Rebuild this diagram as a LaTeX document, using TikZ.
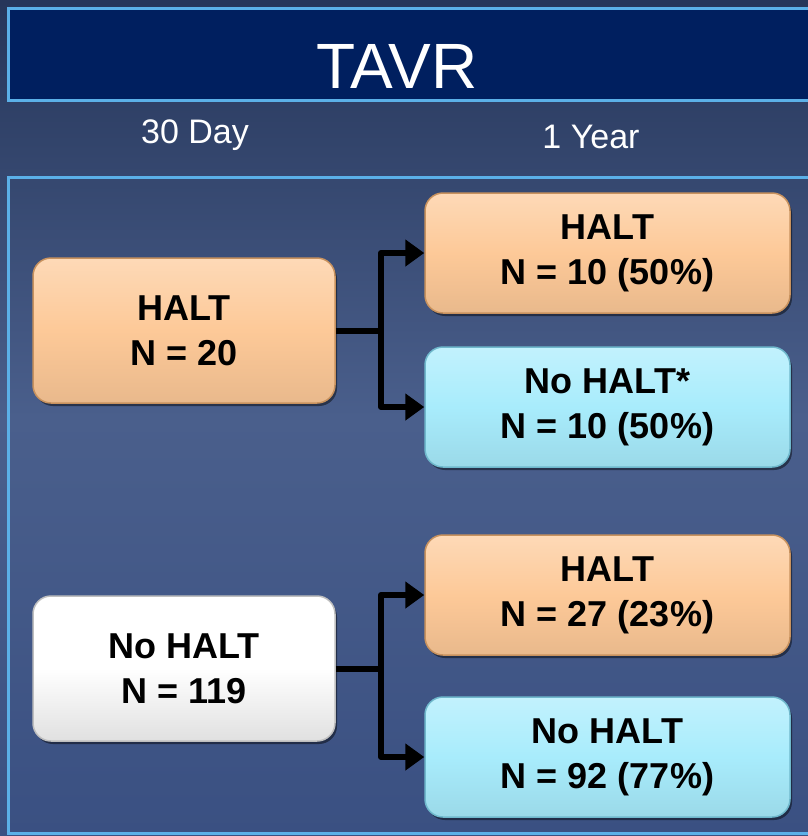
\documentclass[tikz,border=0pt]{standalone}
\usepackage{fontspec}
\setmainfont{Liberation Sans}
\usetikzlibrary{arrows.meta,shadows}
\definecolor{bgtop}{HTML}{26365A}
\definecolor{bgmid}{HTML}{4A5F8C}
\definecolor{bgbot}{HTML}{3A5082}
\definecolor{navy}{HTML}{001F5F}
\definecolor{frameblue}{HTML}{5BB0E8}
\definecolor{orangefill}{HTML}{FDC998}
\definecolor{orangeedge}{HTML}{C8925E}
\definecolor{bluefill}{HTML}{A8ECFC}
\definecolor{blueedge}{HTML}{6FB8CC}
\definecolor{whiteedge}{HTML}{BFBFBF}
\tikzset{
  boxbase/.style={rounded corners=18pt, minimum width=302pt, minimum height=145pt,
    align=center, text=black, line width=1.5pt,
    font=\fontsize{36}{45}\selectfont\bfseries,
    drop shadow={shadow xshift=2pt, shadow yshift=-3pt, opacity=0.45, fill=black}},
  orangebox/.style={boxbase, draw=orangeedge, top color=orangefill!70!white, bottom color=orangefill!92!black, middle color=orangefill},
  bluebox/.style={boxbase, draw=blueedge, top color=bluefill!70!white, bottom color=bluefill!92!black, middle color=bluefill},
  whitebox/.style={boxbase, draw=whiteedge, top color=white, bottom color=white!88!black, middle color=white},
  rightbox/.style={minimum width=365pt, minimum height=120pt},
  conn/.style={line width=6pt, draw=black},
  arr/.style={conn, -{Triangle[length=19pt,width=26pt]}},
  headtext/.style={text=white, font=\fontsize{64}{70}\selectfont},
  coltext/.style={text=white, font=\fontsize{34}{40}\selectfont},
}
\begin{document}
\begin{tikzpicture}[x=1pt,y=-1pt]
\useasboundingbox (0,0) rectangle (808,836);
\begin{scope}
\clip (0,0) rectangle (808,836);
\shade[top color=bgtop, bottom color=bgbot, middle color=bgmid] (0,0) rectangle (808,836);
\draw[frameblue, line width=3pt, fill=navy] (8,8) rectangle (830,100);
\draw[frameblue, line width=3pt] (8,177) rectangle (830,833);
\end{scope}
\node[headtext] (title) at (397,66) {TAVR};
\node[coltext] (c30) at (195,135) {30 Day};
\node[coltext] (c1y) at (591,137) {1 Year};

\node[orangebox] (h20) at (184,330.5) {HALT\\N = 20};
\node[orangebox, rightbox] (h10) at (607.5,253) {HALT\\N = 10 (50\%)};
\node[bluebox, rightbox] (nh10) at (607.5,407) {No HALT*\\N = 10 (50\%)};
\node[whitebox] (nh119) at (184,668.5) {No HALT\\N = 119};
\node[orangebox, rightbox] (h27) at (607.5,595) {HALT\\N = 27 (23\%)};
\node[bluebox, rightbox] (nh92) at (607.5,757) {No HALT\\N = 92 (77\%)};

\coordinate (j1) at (381,330.5);
\coordinate (j2) at (381,668.5);
\draw[conn] (h20.east) -- (j1);
\draw[arr, line join=round] (j1) |- (h10.west);
\draw[arr, line join=round] (j1) |- (nh10.west);
\draw[conn] (nh119.east) -- (j2);
\draw[arr, line join=round] (j2) |- (h27.west);
\draw[arr, line join=round] (j2) |- (nh92.west);
\end{tikzpicture}
\end{document}
